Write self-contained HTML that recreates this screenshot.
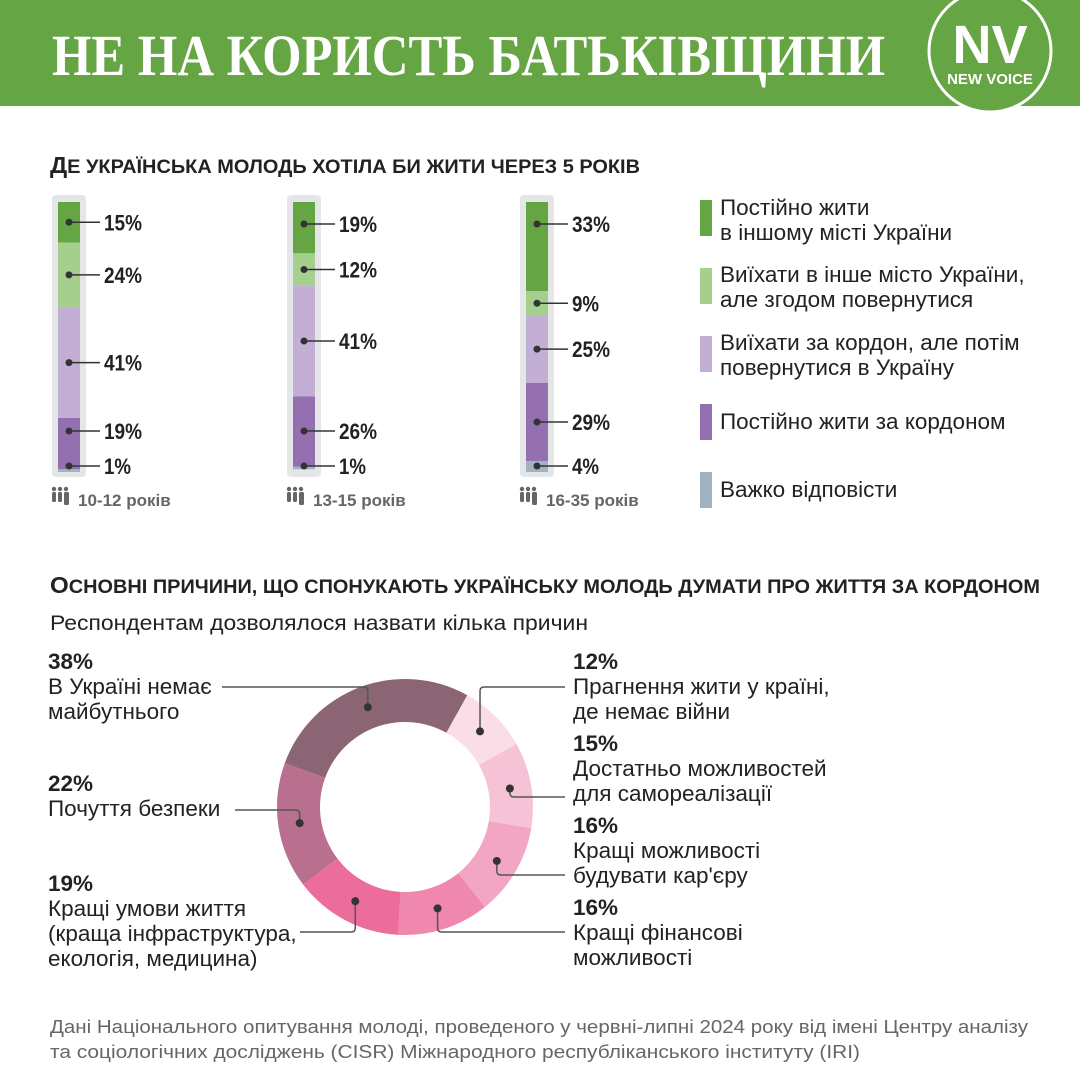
<!DOCTYPE html>
<html><head><meta charset="utf-8">
<style>
body{margin:0;width:1080px;height:1080px;background:#fff;position:relative;overflow:hidden;font-family:"Liberation Sans","DejaVu Sans",sans-serif;color:#222}
.abs{position:absolute}
.hdr{left:0;top:0;width:1080px;height:106px;background:#65a543}
.leg{font-size:22.5px;line-height:25px;color:#222;white-space:nowrap}
.sw{width:12px;height:36px}
.lbl{font-size:22.5px;line-height:25px;color:#222;white-space:nowrap}
</style></head><body>
<div class="abs hdr"></div>
<svg class="abs" style="left:0;top:0" width="1080" height="1080">
<text x="52" y="75" textLength="833" lengthAdjust="spacingAndGlyphs" font-family="Liberation Serif" font-weight="bold" font-size="58" fill="#fff">НЕ НА КОРИСТЬ БАТЬКІВЩИНИ</text>
<text x="50" y="173" textLength="590" lengthAdjust="spacingAndGlyphs" font-family="Liberation Sans" font-weight="bold" font-size="19" fill="#222"><tspan font-size="23">Д</tspan>Е УКРАЇНСЬКА МОЛОДЬ ХОТІЛА БИ ЖИТИ ЧЕРЕЗ 5 РОКІВ</text>
<text x="50" y="593" textLength="990" lengthAdjust="spacingAndGlyphs" font-family="Liberation Sans" font-weight="bold" font-size="19" fill="#222"><tspan font-size="23">О</tspan>СНОВНІ ПРИЧИНИ, ЩО СПОНУКАЮТЬ УКРАЇНСЬКУ МОЛОДЬ ДУМАТИ ПРО ЖИТТЯ ЗА КОРДОНОМ</text>
<text x="50" y="630" textLength="538" lengthAdjust="spacingAndGlyphs" font-family="Liberation Sans" font-size="21" fill="#222">Респондентам дозволялося назвати кілька причин</text>
<text x="50" y="1033" textLength="978" lengthAdjust="spacingAndGlyphs" font-family="Liberation Sans" font-size="18" fill="#666">Дані Національного опитування молоді, проведеного у червні-липні 2024 року від імені Центру аналізу</text>
<text x="50" y="1058" textLength="810" lengthAdjust="spacingAndGlyphs" font-family="Liberation Sans" font-size="18" fill="#666">та соціологічних досліджень (CISR) Міжнародного республіканського інституту (IRI)</text>
</svg>
<svg class="abs" style="left:920px;top:-15px" width="140" height="135">
<circle cx="70" cy="66" r="61" fill="#65a543" stroke="#fff" stroke-width="3"/>
<text x="70" y="78" text-anchor="middle" fill="#fff" font-family="Liberation Sans" font-weight="bold" font-size="54">NV</text>
<text x="70" y="99" text-anchor="middle" fill="#fff" font-family="Liberation Sans" font-weight="bold" font-size="15">NEW VOICE</text>
</svg>
<svg class="abs" style="left:0;top:180px" width="690" height="340" id="bars"></svg>
<div class="abs" style="left:700px;top:196px">
<div class="abs sw" style="left:0;top:4px;background:#65a543"></div>
<div class="abs leg" style="left:20px;top:-1px">Постійно жити<br>в іншому місті України</div>
<div class="abs sw" style="left:0;top:72px;background:#a5cf8d"></div>
<div class="abs leg" style="left:20px;top:66px">Виїхати в інше місто України,<br>але згодом повернутися</div>
<div class="abs sw" style="left:0;top:140px;background:#c3aed6"></div>
<div class="abs leg" style="left:20px;top:134px">Виїхати за кордон, але потім<br>повернутися в Україну</div>
<div class="abs sw" style="left:0;top:208px;background:#9570b0"></div>
<div class="abs leg" style="left:20px;top:213px">Постійно жити за кордоном</div>
<div class="abs sw" style="left:0;top:276px;background:#9fb3c2"></div>
<div class="abs leg" style="left:20px;top:281px">Важко відповісти</div>
</div>
<svg class="abs" style="left:0;top:640px" width="1080" height="340" id="donut"></svg>
<div class="abs lbl" style="left:48px;top:649px"><b>38%</b><br>В Україні немає<br>майбутнього</div>
<div class="abs lbl" style="left:48px;top:771px"><b>22%</b><br>Почуття безпеки</div>
<div class="abs lbl" style="left:48px;top:871px"><b>19%</b><br>Кращі умови життя<br>(краща інфраструктура,<br>екологія, медицина)</div>
<div class="abs lbl" style="left:573px;top:649px"><b>12%</b><br>Прагнення жити у країні,<br>де немає війни</div>
<div class="abs lbl" style="left:573px;top:731px"><b>15%</b><br>Достатньо можливостей<br>для самореалізації</div>
<div class="abs lbl" style="left:573px;top:813px"><b>16%</b><br>Кращі можливості<br>будувати кар'єру</div>
<div class="abs lbl" style="left:573px;top:895px"><b>16%</b><br>Кращі фінансові<br>можливості</div>
<script>
const ageGroups=["10-12 років","13-15 років","16-35 років"];
const otherCity=[15,19,33];
const returnCity=[24,12,9];
const abroadReturn=[41,41,25];
const abroad=[19,26,29];
const hardSay=[1,1,4];
const barColors=["#65a543","#a5cf8d","#c3aed6","#9570b0","#9fb3c2"];
const NS="http://www.w3.org/2000/svg";
function mk(p,t,a){const e=document.createElementNS(NS,t);for(const k in a)e.setAttribute(k,a[k]);p.appendChild(e);return e;}
const bs=document.getElementById('bars');
const barX=[58,293,526],top0=22,hgt=270,bw=22;
const yS=v=>v/100*hgt;
ageGroups.forEach((g,i)=>{
 const vals=[otherCity[i],returnCity[i],abroadReturn[i],abroad[i],hardSay[i]];
 const bg=mk(bs,'rect',{x:barX[i]-6,y:top0-7,width:bw+12,height:hgt+12,rx:4,fill:'#e5e6e8'});
 
 
 let y=top0;const cy=[];
 vals.forEach((v,j)=>{const h=yS(v);
  const r=mk(bs,'rect',{x:barX[i],y:y,width:bw,height:h,fill:barColors[j]});
  
  
  cy.push(y+h/2);y+=h;});
 cy[0]=Math.min(cy[0],top0+22);
 cy[4]=Math.min(cy[4],top0+hgt-6);
 for(let j=3;j>=0;j--){if(cy[j+1]-cy[j]<35)cy[j]=cy[j+1]-35;}
 vals.forEach((v,j)=>{
  mk(bs,'circle',{cx:barX[i]+11,cy:cy[j],r:3.5,fill:'#333'});
  mk(bs,'line',{x1:barX[i]+11,y1:cy[j],x2:barX[i]+42,y2:cy[j],stroke:'#333','stroke-width':1.5});
  const t=mk(bs,'text',{x:barX[i]+46,y:cy[j]+8,'font-size':22,'font-weight':'bold',fill:'#222','font-family':'Liberation Sans',textLength:(String(v).length*11+16),lengthAdjust:'spacingAndGlyphs'});
  t.textContent=v+'%';
  
  
 });
 const gx=barX[i]-6;
 [0,6,12].forEach((dx,k)=>{mk(bs,'circle',{cx:gx+dx+2,cy:309,r:2.2,fill:'#666'});mk(bs,'rect',{x:gx+dx,y:312,width:k==2?5:4,height:k==2?13:10,rx:1.5,fill:'#666'});});
 const lt=mk(bs,'text',{x:barX[i]+20,y:326,'font-size':17,'font-weight':'bold',fill:'#666','font-family':'Liberation Sans'});
 lt.textContent=g;
 
 
});
const reasons=["В Україні немає майбутнього","Прагнення жити у країні, де немає війни","Достатньо можливостей","Кар'єра","Фінанси","Умови життя","Безпека"];
const reasonValues=[38,12,15,16,16,19,22];
const donutColors=["#8c6574","#fbdde7","#f6c2d6","#f3a6c3","#f087ae","#ec6c9c","#b8708e"];
const ds=document.getElementById('donut');
const cx=405,cyD=167,R=128,r0=85,start=-70;
const total=reasonValues.reduce((a,b)=>a+b,0);
const pt=(a,rr)=>{const t=(a-90)*Math.PI/180;return[cx+rr*Math.cos(t),cyD+rr*Math.sin(t)];};
let a=start;
const mids=[];
reasonValues.forEach((v,i)=>{const s=a,e=a+v/total*360;a=e;
 const p1=pt(s,R),p2=pt(e,R),p3=pt(e,r0),p4=pt(s,r0);const lg=e-s>180?1:0;
 const p=mk(ds,'path',{d:`M${p1}A${R},${R} 0 ${lg} 1 ${p2}L${p3}A${r0},${r0} 0 ${lg} 0 ${p4}Z`,fill:donutColors[i]});
 
 
 mids.push(pt((s+e)/2,(R+r0)/2));
});
const leaders=[[0,47,'L',222],[6,170,'L',235],[5,292,'L',300],[1,47,'R',565],[2,157,'R',565],[3,235,'R',565],[4,292,'R',565]];
leaders.forEach(([i,ly,side,ex])=>{const [mx,my]=mids[i];
 let d;
 if(Math.abs(my-ly)<8){d=`M${mx},${my}H${ex}`;}
 else{const dir=ex<mx?-4:4;d=`M${mx},${my}V${ly+(my<ly?-4:4)}Q${mx},${ly} ${mx+dir},${ly}H${ex}`;}
 mk(ds,'path',{d:d,fill:'none',stroke:'#555','stroke-width':1.5});
 mk(ds,'circle',{cx:mx,cy:my,r:4,fill:'#333'});
});
</script>
</body></html>
